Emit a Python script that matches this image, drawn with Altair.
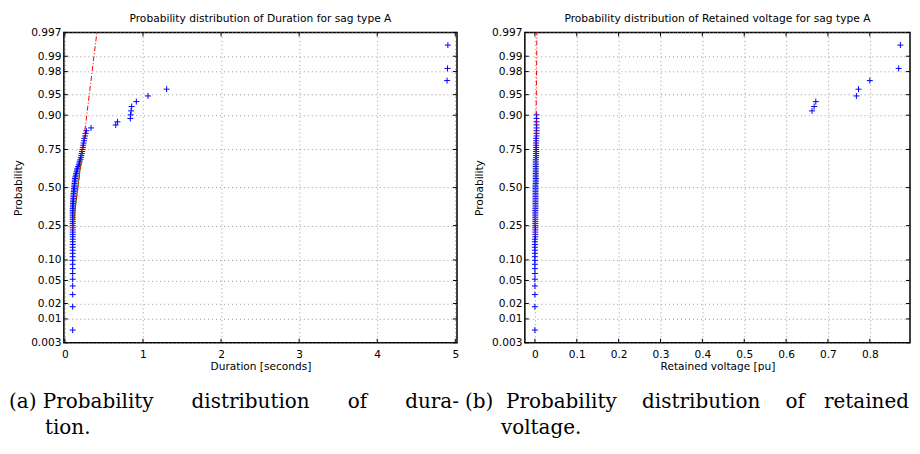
import altair as alt
import pandas as pd
from statistics import NormalDist

_nd = NormalDist()

# ---------------- data ----------------
prob_ticks = [0.003, 0.01, 0.02, 0.05, 0.10, 0.25, 0.50, 0.75, 0.90, 0.95, 0.98, 0.99, 0.997]

# sorted sag durations [s], 86 events of type A
duration_sorted = [
    0.100, 0.100, 0.100, 0.100, 0.100, 0.100, 0.100, 0.100, 0.100, 0.100,
    0.100, 0.100, 0.100, 0.100, 0.100, 0.100, 0.100, 0.100, 0.100, 0.100,
    0.100, 0.100, 0.100, 0.100, 0.100, 0.100, 0.100, 0.100, 0.100, 0.100,
    0.100, 0.102, 0.103, 0.104, 0.105, 0.106, 0.108, 0.110, 0.110, 0.112,
    0.114, 0.116, 0.118, 0.120, 0.122, 0.124, 0.126, 0.128, 0.130, 0.134,
    0.140, 0.145, 0.150, 0.155, 0.160, 0.170, 0.180, 0.185, 0.190, 0.200,
    0.205, 0.210, 0.215, 0.220, 0.225, 0.230, 0.235, 0.240, 0.245, 0.250,
    0.260, 0.265, 0.275, 0.335, 0.651, 0.673, 0.838, 0.842, 0.848, 0.855,
    0.915, 1.064, 1.303, 4.895, 4.900, 4.905,
]

# sorted retained voltages [pu], same 86 events
voltage_sorted = [
    0.000, 0.000, 0.000, 0.000, 0.000, 0.000, 0.000, 0.000, 0.000, 0.000,
    0.000, 0.000, 0.000, 0.000, 0.000, 0.000, 0.001, 0.001, 0.001, 0.001,
    0.001, 0.001, 0.001, 0.001, 0.001, 0.001, 0.001, 0.001, 0.001, 0.001,
    0.0015, 0.0015, 0.0015, 0.0015, 0.0015, 0.0015, 0.0015, 0.0015, 0.0015, 0.0015,
    0.0015, 0.0015, 0.0015, 0.0015, 0.0015, 0.002, 0.002, 0.002, 0.002, 0.002,
    0.002, 0.002, 0.002, 0.002, 0.002, 0.002, 0.002, 0.002, 0.002, 0.002,
    0.003, 0.003, 0.003, 0.003, 0.003, 0.003, 0.003, 0.003, 0.003, 0.003,
    0.004, 0.004, 0.004, 0.004, 0.004, 0.004, 0.004, 0.004,
    0.662, 0.667, 0.671, 0.768, 0.773, 0.800, 0.869, 0.873,
]

duration_ticks = [0, 1, 2, 3, 4, 5]
voltage_ticks = [0, 0.1, 0.2, 0.3, 0.4, 0.5, 0.6, 0.7, 0.8]

# reference lines: dash-dot extrapolation and solid quartile segment
dur_fit_x = [0.100, 0.410]
dur_fit_p = [0.229, 0.997]
dur_q_x = [0.106, 0.226]
dur_q_p = [0.25, 0.75]

volt_fit_x = [0.0004, 0.0048]
volt_fit_p = [0.20, 0.997]
volt_q_x = [0.0010, 0.0025]
volt_q_p = [0.25, 0.75]

titles = ["Probability distribution of Duration for sag type A",
          "Probability distribution of Retained voltage for sag type A"]
x_titles = ["Duration [seconds]", "Retained voltage [pu]"]
NB = "\u00a0"
captions_a = ["(a) Probability" + NB * 6 + "distribution" + NB * 6 + "of" + NB * 6 + "dura-", "tion."]
captions_b = ["(b)" + NB * 2 + "Probability" + NB * 4 + "distribution" + NB * 4 + "of" + NB * 3 + "retained",
              "voltage."]

# ---------------- styling ----------------
SANS = "DejaVu Sans"
SERIF = "DejaVu Serif"
H = 311


def zq(p):
    return _nd.inv_cdf(p)


Z_MIN, Z_MAX = zq(0.003), zq(0.997)
y_tick_z = [zq(p) for p in prob_ticks]
LABEL_EXPR = ("(cumulativeNormal(datum.value) < 0.005 || cumulativeNormal(datum.value) > 0.995)"
              " ? format(cumulativeNormal(datum.value), '.3f')"
              " : format(cumulativeNormal(datum.value), '.2f')")


def panel(values, xdomain, xticks, xfmt, fit_x, fit_p, q_x, q_p, title, xtitle,
          caps, cap_x, cap2_x, width):
    n = len(values)
    df = pd.DataFrame({"v": values, "z": [zq((i - 0.5) / n) for i in range(1, n + 1)]})
    xs = alt.Scale(domain=xdomain, nice=False, zero=False)
    ys = alt.Scale(domain=[Z_MIN, Z_MAX], nice=False, zero=False)

    xaxis = alt.Axis(values=xticks, format=xfmt, grid=True, gridDash=[1, 3], gridColor="#999999",
                     ticks=False, tickSize=0, domain=False, labelFont=SANS, labelFontSize=10.6,
                     labelColor="black", labelPadding=7, labelFlush=False, labelOverlap=False,
                     title=xtitle, titleFont=SANS, titleFontSize=10.6, titleFontWeight="normal",
                     titleColor="black", titlePadding=1)
    yaxis = alt.Axis(values=y_tick_z, labelExpr=LABEL_EXPR, grid=True, gridDash=[1, 3],
                     gridColor="#999999", ticks=False, tickSize=0, domain=False,
                     labelFont=SANS, labelFontSize=10.6, labelColor="black", labelPadding=3,
                     labelFlush=False, labelOverlap=False, title="Probability", titleFont=SANS,
                     titleFontSize=10.6, titleFontWeight="normal", titleColor="black",
                     titlePadding=7)
    X = alt.X("v:Q", scale=xs, axis=xaxis)
    Y = alt.Y("z:Q", scale=ys, axis=yaxis)

    pts = alt.Chart(df).mark_point(shape="M-1,0L1,0M0,-1L0,1", filled=False, stroke="#0000ff",
                                   strokeWidth=1, size=36, opacity=1).encode(x=X, y=Y)

    fit_df = pd.DataFrame({"v": fit_x, "z": [zq(p) for p in fit_p]})
    q_df = pd.DataFrame({"v": q_x, "z": [zq(p) for p in q_p]})
    fit = alt.Chart(fit_df).mark_line(color="#ff0000", strokeWidth=1,
                                      strokeDash=[5, 2, 1, 2]).encode(x=X, y=Y)
    qline = alt.Chart(q_df).mark_line(color="#009900", strokeWidth=1).encode(x=X, y=Y)

    yt = pd.DataFrame({"z": y_tick_z})
    xt = pd.DataFrame({"v": xticks})
    tk = dict(color="black", strokeWidth=1)
    t_left = alt.Chart(yt).mark_rule(**tk).encode(y=Y, x=alt.value(0), x2=alt.value(4))
    t_right = alt.Chart(yt).mark_rule(**tk).encode(y=Y, x=alt.value(width - 4), x2=alt.value(width))
    t_bot = alt.Chart(xt).mark_rule(**tk).encode(x=X, y=alt.value(H - 4), y2=alt.value(H))
    t_top = alt.Chart(xt).mark_rule(**tk).encode(x=X, y=alt.value(0), y2=alt.value(4))

    cap1 = alt.Chart(pd.DataFrame({"t": [caps[0]]})).mark_text(
        align="left", baseline="alphabetic", font=SERIF, fontSize=20, color="black").encode(
        x=alt.value(cap_x), y=alt.value(H + 65.5), text="t:N")
    cap2 = alt.Chart(pd.DataFrame({"t": [caps[1]]})).mark_text(
        align="left", baseline="alphabetic", font=SERIF, fontSize=20, color="black").encode(
        x=alt.value(cap2_x), y=alt.value(H + 91), text="t:N")

    return alt.layer(pts, qline, fit, t_left, t_right, t_bot, t_top, cap1, cap2).properties(
        width=width, height=H,
        title=alt.Title(title, font=SANS, fontSize=10.7, fontWeight="normal", color="black",
                        baseline="alphabetic", offset=-5),
    )


left = panel(duration_sorted, [-0.013, 5.022], duration_ticks, "d",
             dur_fit_x, dur_fit_p, dur_q_x, dur_q_p, titles[0], x_titles[0],
             captions_a, -55, -19, 394)
right = panel(voltage_sorted, [-0.024, 0.896], voltage_ticks, "~g",
              volt_fit_x, volt_fit_p, volt_q_x, volt_q_p, titles[1], x_titles[1],
              captions_b, -60, -24, 386)

chart = alt.hconcat(left, right, spacing=3).properties(
    padding={"left": 0, "top": 3, "right": 0, "bottom": 0},
    background="white",
).configure_view(stroke="black", strokeWidth=1.5)

chart.save("out.html", embed_options={"renderer": "svg", "actions": False})
